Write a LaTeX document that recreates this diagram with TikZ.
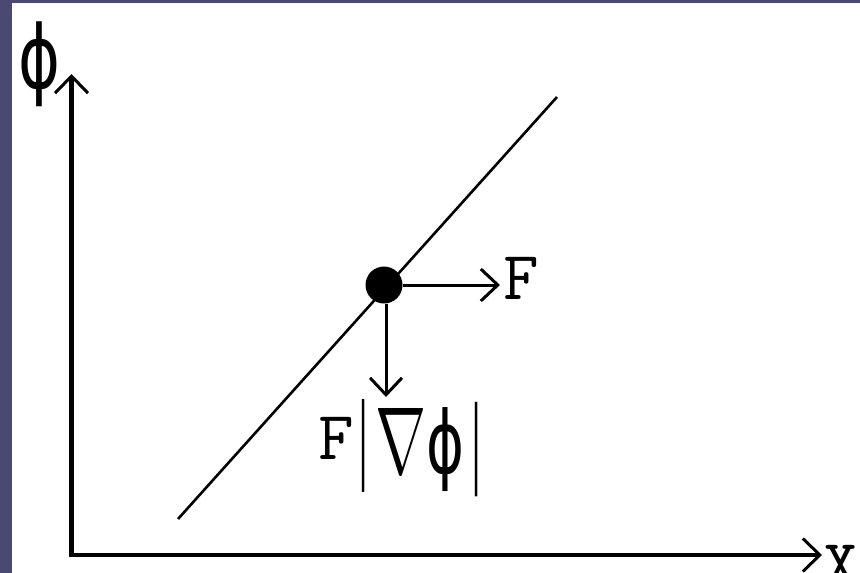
\documentclass[tikz,border=0pt]{standalone}
\usepackage{fontspec}
\usepackage{graphicx}
\newfontfamily\symfont{DejaVu Sans}
\usetikzlibrary{arrows.meta}
\definecolor{slidebg}{RGB}{74,73,114}
\tikzset{
  axis/.style={line width=4.8pt, -{Straight Barb[length=17pt,width=33pt,line width=3pt]}},
  force/.style={line width=3pt, -{Straight Barb[length=17pt,width=32pt,line width=3pt]}},
  curve/.style={line width=2.6pt},
  lbl/.style={inner sep=0pt, outer sep=0pt, font=\ttfamily\fontsize{69}{69}\selectfont},
  sym/.style={inner sep=0pt, outer sep=0pt, font=\symfont},
  dotnode/.style={circle, fill=black, inner sep=0pt, minimum size=37pt}
}
\begin{document}
\begin{tikzpicture}[x=1pt,y=-1pt]
\fill[slidebg] (0,0) rectangle (860,573);
\fill[white] (12,3) rectangle (860,573);
\useasboundingbox (0,0) rectangle (860,573);
% axes
\coordinate (O) at (71.5,555);
\coordinate (ytop) at (71.5,74);
\coordinate (xend) at (822,555);
\draw[axis] (O) -- (ytop);
\draw[axis] ([xshift=-2.4pt]O) -- (xend);
\node[sym, anchor=center] (phiy) at (40,64.5) {\resizebox*{42pt}{85pt}{ϕ}};
\node[lbl, anchor=base west] (xlab) at (823,587) {X};
% line
\coordinate (lstart) at (178,519);
\coordinate (lend) at (557,97);
\draw[curve] (lstart) -- (lend);
% dot
\node[dotnode] (dot) at (384,285) {};
\coordinate (ftip) at (500,285);
\coordinate (dtip) at (386,397);
\draw[force] (dot.east) -- (ftip);
\draw[force] (dot.south -| dtip) -- (dtip);
\node[lbl, anchor=base west] (flab) at (503,299) {F};
% F |grad phi|
\node[lbl, anchor=base west] (flab2) at (318,459) {F};
\node[sym, anchor=center] (barL) at (364,446) {\fontsize{30}{30}\selectfont\scalebox{1}[3.1]{|}};
\node[inner sep=0pt, outer sep=0pt, anchor=center] (nabla) at (400.5,440.5) {\resizebox*{51pt}{65pt}{$\nabla$}};
\node[sym, anchor=center] (phil) at (446,450) {\resizebox*{38pt}{84pt}{ϕ}};
\node[sym, anchor=center] (barR) at (477,449.5) {\fontsize{30}{30}\selectfont\scalebox{1}[3.15]{|}};
\end{tikzpicture}
\end{document}
